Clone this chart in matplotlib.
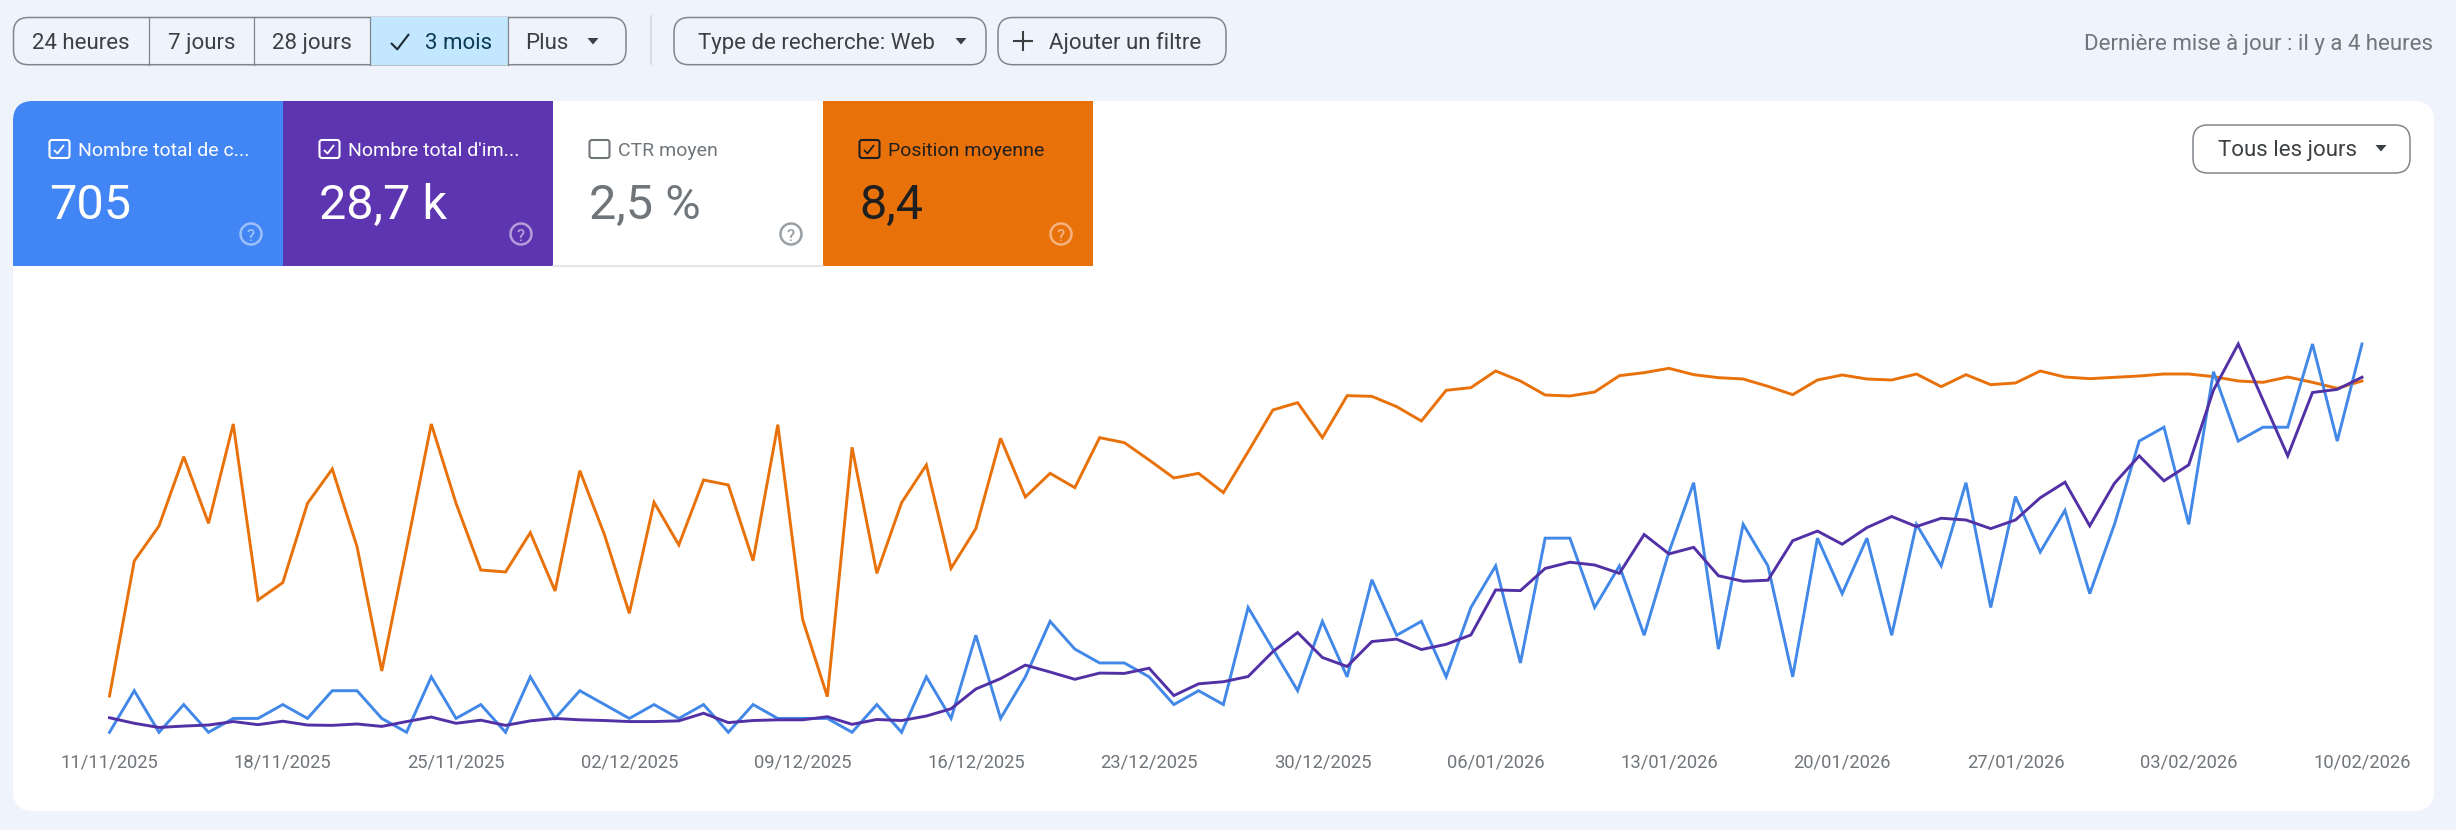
#!/usr/bin/env python3

"""
Search Console performance view: clicks, impressions and average position per day
"""

import numpy as np
import pandas as pd
import matplotlib
matplotlib.use('Agg')
import matplotlib.pyplot as plt
from matplotlib.patches import FancyBboxPatch, Rectangle, Circle, Polygon

plt.rcParams['font.family'] = ['Roboto', 'DejaVu Sans']

# data
clicks = [0, 3, 0, 2, 0, 1, 1, 2, 1, 3, 3, 1, 0, 4, 1, 2, 0, 4, 1, 3,
          2, 1, 2, 1, 2, 0, 2, 1, 1, 1, 0, 2, 0, 4, 1, 7, 1, 4, 8, 6,
          5, 5, 4, 2, 3, 2, 9, 6, 3, 8, 4, 11, 7, 8, 4, 9, 12, 5, 14, 14,
          9, 12, 7, 13, 18, 6, 15, 12, 4, 14, 10, 14, 7, 15, 12, 18, 9, 17, 13, 16,
          10, 15, 21, 22, 15, 26, 21, 22, 22, 28, 21, 28]
impressions = [42, 26, 14, 18, 21, 31, 22, 32, 21, 20,
               24, 17, 31, 44, 26, 35, 20, 33, 40, 36,
               34, 31, 31, 33, 55, 28, 34, 36, 36, 45,
               23, 37, 34, 47, 68, 125, 155, 194, 174, 153,
               171, 170, 185, 106, 140, 146, 161, 233, 288, 216,
               190, 262, 269, 239, 254, 281, 411, 409, 473, 491,
               483, 459, 571, 515, 534, 452, 436, 439, 553, 581,
               543, 591, 623, 594, 618, 613, 588, 613, 677, 722,
               596, 719, 798, 726, 772, 988, 1121, 959, 798, 981, 990, 1025]
position = [27.12, 19.02, 16.92, 12.76, 16.76, 10.8, 21.36, 20.32, 15.56, 13.5,
            18.16, 25.62, 18.26, 10.8, 15.56, 19.56, 19.68, 17.32, 20.82, 13.6,
            17.46, 22.16, 15.5, 18.06, 14.16, 14.46, 19.0, 10.84, 22.52, 27.16,
            12.2, 19.76, 15.52, 13.26, 19.46, 17.08, 11.66, 15.18, 13.76, 14.62,
            11.62, 11.92, 12.96, 14.04, 13.76, 14.92, 12.46, 9.96, 9.52, 11.62,
            9.1, 9.14, 9.76, 10.62, 8.78, 8.62, 7.62, 8.22, 9.06, 9.12,
            8.88, 7.9, 7.72, 7.46, 7.84, 8.02, 8.1, 8.54, 9.04, 8.16,
            7.86, 8.1, 8.16, 7.8, 8.56, 7.84, 8.44, 8.34, 7.62, 7.98,
            8.08, 8.0, 7.92, 7.8, 7.8, 7.96, 8.22, 8.3, 7.98, 8.3, 8.66, 8.22]
dates = pd.date_range('2025-11-11', '2026-02-10', freq='D')

card_titles = ['Nombre total de c...', "Nombre total d'im...", 'CTR moyen', 'Position moyenne']
card_values = ['705', '28,7 k', '2,5 %', '8,4']
card_checked = [True, True, False, True]

BG = '#eff3fb'
BLUE = '#4285f4'
PURPLE = '#5e35b1'
ORANGE = '#e8710a'
LINE_BLUE = '#4288e8'
LINE_PURPLE = '#5231a6'
DARK = '#3c4043'
GREY = '#70757a'
EDGE = '#80868b'

W, H = 2456, 830
fig = plt.figure(figsize=(W/100, H/100), dpi=100, facecolor=BG)

# page layer in pixels
ui = fig.add_axes([0, 0, 1, 1])
ui.set_xlim(0, W)
ui.set_ylim(H, 0)
ui.axis('off')


def box(x0, y0, x1, y1, r, fc='none', ec='none', lw=1.1, z=2):
    p = FancyBboxPatch((x0 + r, y0 + r), x1 - x0 - 2*r, y1 - y0 - 2*r,
                       boxstyle='round,pad=%f,rounding_size=%f' % (r, r),
                       fc=fc, ec=ec, lw=lw, zorder=z)
    ui.add_patch(p)
    return p


def arrow(cx, cy, color=DARK):
    ui.add_patch(Polygon([[cx - 5.5, cy - 3], [cx + 5.5, cy - 3], [cx, cy + 3.5]],
                         closed=True, fc=color, ec='none', zorder=4))


def label(x, y, s, size=16, color=DARK, ha='left', weight=400):
    ui.text(x, y, s, fontsize=size, color=color, ha=ha, va='center_baseline',
            fontweight=weight, zorder=5)


def tick_mark(x0, y0, s, color, lw):
    ui.plot([x0, x0 + 0.35*s, x0 + s], [y0, y0 + 0.35*s, y0 - 0.5*s], color=color, lw=lw,
            zorder=5, solid_capstyle='butt')


# time range buttons
group = box(13.5, 17.5, 626, 64.7, 15, fc=BG, ec=EDGE)
sel = Rectangle((370, 17.5), 138, 47.2, fc='#c2e7ff', ec='none', zorder=2.5)
ui.add_patch(sel)
for xd in [149, 253.5, 370, 508]:
    ui.plot([xd, xd], [17.5, 64.7], color=EDGE, lw=0.9, zorder=3)
label(81, 41, '24 heures', ha='center')
label(202, 41, '7 jours', ha='center')
label(312, 41, '28 jours', ha='center')
tick_mark(391, 43, 18, '#1f2a33', 1.5)
label(459, 41, '3 mois', ha='center', color='#0b3a55')
label(547, 41, 'Plus', ha='center')
arrow(593, 41)
ui.plot([650.5, 650.5], [16, 64], color='#d5d9e0', lw=1.2, zorder=2)

# filter buttons
box(674, 17.5, 986, 64.7, 15, fc=BG, ec=EDGE)
label(698, 41, 'Type de recherche: Web')
arrow(961, 41)
box(998, 17.5, 1226, 64.7, 15, fc=BG, ec=EDGE)
ui.plot([1014, 1032], [41, 41], color=DARK, lw=1.5, zorder=5)
ui.plot([1023, 1023], [32, 50], color=DARK, lw=1.5, zorder=5)
label(1049, 41, 'Ajouter un filtre')
label(2433, 42, 'Dernière mise à jour : il y a 4 heures', size=16, color=GREY, ha='right')

# white card
card = box(13, 101, 2434, 811, 20, fc='white', z=1)

# metric tiles
tile_fill = [BLUE, PURPLE, 'white', ORANGE]
tile_text = ['white', 'white', GREY, '#1f1f1f']
tile_title = ['white', 'white', GREY, '#1f1f1f']
tile_help = ['#9cc0fa', '#b39ddb', '#9aa0a6', '#f5b27f']
for i in range(4):
    x = 13 + 270*i
    r = Rectangle((x, 101), 270, 165, fc=tile_fill[i], ec='none', zorder=2)
    ui.add_patch(r)
    r.set_clip_path(card)
    box(x + 36.5, 140, x + 56.5, 158, 2.5, ec=tile_title[i], lw=1.5, z=4)
    if card_checked[i]:
        tick_mark(x + 41, 150, 10, tile_title[i], 1.3)
    label(x + 65, 148.5, card_titles[i], size=14, color=tile_title[i])
    label(x + 36, 201, card_values[i], size=35, color=tile_text[i])
    ui.add_patch(Circle((x + 238, 234), 10.5, fc='none', ec=tile_help[i], lw=1.8, zorder=4))
    label(x + 238, 234.5, '?', size=12, color=tile_help[i], ha='center', weight=500)
ui.plot([553, 823], [266.5, 266.5], color='#e0e0e0', lw=1.2, zorder=3)

# range selector in the card
box(2193, 125, 2410, 173, 15, fc='white', ec=EDGE)
label(2218, 148, 'Tous les jours')
arrow(2381, 148)

# plot area, one y scale per metric
left, right = 109.5, 2362
top, bottom = 344, 732.3
rect = [left/W, 1 - bottom/H, (right - left)/W, (bottom - top)/H]
x = np.arange(len(dates))

ax = fig.add_axes(rect)
ax_pos = ax
ax_clicks = ax.twinx()
ax_imp = ax.twinx()

ax_pos.plot(x, position, color=ORANGE, lw=2.1, solid_joinstyle='miter', clip_on=False)
ax_clicks.plot(x, clicks, color=LINE_BLUE, lw=2.1, solid_joinstyle='miter', clip_on=False)
ax_imp.plot(x, impressions, color=LINE_PURPLE, lw=2.1, solid_joinstyle='miter', clip_on=False)

ax_pos.set_ylim(29.3, 6)
ax_clicks.set_ylim(0, 28)
ax_imp.set_ylim(0, 1121)

for a in [ax_pos, ax_clicks, ax_imp]:
    a.set_xlim(0, len(dates) - 1)
    a.patch.set_alpha(0)
    a.set_yticks([])
    for s in a.spines.values():
        s.set_visible(False)

ticks = x[::7]
ax_pos.set_xticks(ticks)
ax_pos.set_xticklabels([dates[t].strftime('%d/%m/%Y') for t in ticks], fontsize=13.2, color=GREY)
ax_pos.tick_params(axis='x', length=0, pad=15.5)

fig.savefig('out.png', dpi=100, facecolor=BG)
